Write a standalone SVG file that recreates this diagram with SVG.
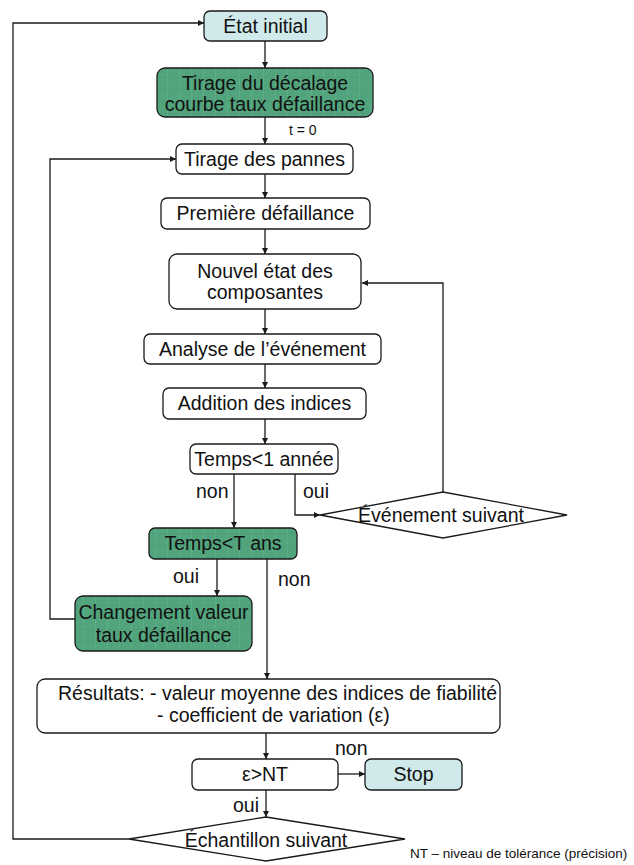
<svg xmlns="http://www.w3.org/2000/svg" width="634" height="865" viewBox="0 0 634 865">
<style>
  .box { fill: #ffffff; stroke: #1a1a1a; stroke-width: 1.3; }
  .green { fill: url(#grid); stroke: #1a1a1a; stroke-width: 1.3; }
  .blue { fill: #d0e9eb; stroke: #1a1a1a; stroke-width: 1.3; }
  .dia { fill: #ffffff; stroke: #1a1a1a; stroke-width: 1.3; }
  .t { font-family: "Liberation Sans", Arial, sans-serif; font-size: 19.5px; fill: #111111; text-anchor: middle; }
  .l { font-family: "Liberation Sans", Arial, sans-serif; font-size: 19.5px; fill: #111111; }
  .conn { fill: none; stroke: #1a1a1a; stroke-width: 1.3; marker-end: url(#arr); }
</style>
<defs>
  <marker id="arr" viewBox="0 0 10 10" refX="10" refY="5" markerWidth="6" markerHeight="6" markerUnits="userSpaceOnUse" orient="auto">
    <path d="M0,0 L10,5 L0,10 z" fill="#1a1a1a"/>
  </marker>
  <pattern id="grid" width="12" height="12" patternUnits="userSpaceOnUse">
    <rect width="12" height="12" fill="#52a47d"/>
    <path d="M11.5,0 V12" stroke="#5cae87" stroke-width="1"/>
    <path d="M0,5.5 H12" stroke="#4c9b76" stroke-width="0.6"/>
  </pattern>
</defs>
<rect width="634" height="865" fill="#ffffff"/>

<g id="connectors">
  <line class="conn" x1="265" y1="41" x2="265" y2="68"/>
  <line class="conn" x1="265" y1="117" x2="265" y2="144"/>
  <line class="conn" x1="265" y1="174" x2="265" y2="198"/>
  <line class="conn" x1="265" y1="229" x2="265" y2="254"/>
  <line class="conn" x1="265" y1="309" x2="265" y2="334"/>
  <line class="conn" x1="265" y1="364" x2="265" y2="388"/>
  <line class="conn" x1="265" y1="419" x2="265" y2="444"/>
  <line class="conn" x1="234" y1="474" x2="234" y2="528"/>
  <polyline class="conn" points="295,474 295,515 320,515"/>
  <polyline class="conn" points="443,492 443,283 362,283"/>
  <line class="conn" x1="217" y1="559" x2="217" y2="596"/>
  <line class="conn" x1="267" y1="559" x2="267" y2="679"/>
  <polyline class="conn" points="75,619 50,619 50,159 176,159"/>
  <line class="conn" x1="266" y1="733" x2="266" y2="759"/>
  <line class="conn" x1="338" y1="774" x2="365" y2="774"/>
  <line class="conn" x1="266" y1="790" x2="266" y2="817"/>
  <polyline class="conn" points="129,839 13,839 13,23 204,23"/>
  <text class="l" x="289" y="135" style="font-size:14px">t = 0</text>
  <text class="l" x="196" y="498">non</text>
  <text class="l" x="303" y="498">oui</text>
  <text class="l" x="173" y="583">oui</text>
  <text class="l" x="278" y="586">non</text>
  <text class="l" x="335" y="755">non</text>
  <text class="l" x="233" y="812">oui</text>
</g>

<g id="etat-initial">
  <rect class="blue" x="204" y="11" width="123" height="30" rx="6"/>
  <text class="t" x="265.5" y="33">État initial</text>
</g>
<g id="tirage-decalage">
  <rect class="green" x="157" y="68" width="216" height="49" rx="8"/>
  <text class="t" x="265" y="90">Tirage du décalage</text>
  <text class="t" x="265" y="111">courbe taux défaillance</text>
</g>
<g id="tirage-pannes">
  <rect class="box" x="176" y="144" width="177" height="30" rx="6"/>
  <text class="t" x="264.5" y="166">Tirage des pannes</text>
</g>
<g id="premiere-defaillance">
  <rect class="box" x="161" y="198" width="209" height="31" rx="6"/>
  <text class="t" x="265.5" y="220">Première défaillance</text>
</g>
<g id="nouvel-etat">
  <rect class="box" x="169" y="254" width="192" height="55" rx="8"/>
  <text class="t" x="265" y="278">Nouvel état des</text>
  <text class="t" x="265" y="299">composantes</text>
</g>
<g id="analyse">
  <rect class="box" x="144" y="334" width="237" height="30" rx="6"/>
  <text class="t" x="262.5" y="356">Analyse de l’événement</text>
</g>
<g id="addition">
  <rect class="box" x="163" y="388" width="203" height="31" rx="6"/>
  <text class="t" x="264.5" y="410">Addition des indices</text>
</g>
<g id="temps-1-annee">
  <rect class="box" x="190" y="444" width="148" height="30" rx="6"/>
  <text class="t" x="264" y="466">Temps&lt;1 année</text>
</g>
<g id="evenement-suivant">
  <polygon class="dia" points="320,515 443,492 567,515 443,538"/>
  <text class="t" x="441" y="522">Événement suivant</text>
</g>
<g id="temps-t-ans">
  <rect class="green" x="149" y="528" width="148" height="31" rx="6"/>
  <text class="t" x="223" y="550">Temps&lt;T ans</text>
</g>
<g id="changement">
  <rect class="green" x="75" y="596" width="177" height="55" rx="8"/>
  <text class="t" x="163.5" y="619">Changement valeur</text>
  <text class="t" x="163.5" y="642">taux défaillance</text>
</g>
<g id="resultats">
  <rect class="box" x="37" y="679" width="463" height="54" rx="8"/>
  <text class="l" x="58" y="700">Résultats: - valeur moyenne des indices de fiabilité</text>
  <text class="l" x="157" y="722">- coefficient de variation (ε)</text>
</g>
<g id="epsilon-nt">
  <rect class="box" x="192" y="759" width="146" height="31" rx="6"/>
  <text class="t" x="265" y="781">ε&gt;NT</text>
</g>
<g id="stop">
  <rect class="blue" x="365" y="759" width="97" height="31" rx="6"/>
  <text class="t" x="413.5" y="781">Stop</text>
</g>
<g id="echantillon-suivant">
  <polygon class="dia" points="129,839 266,817 405,839 266,861"/>
  <text class="t" x="266" y="847">Échantillon suivant</text>
</g>
<g id="note">
  <text class="l" x="410" y="858" style="font-size:13.5px">NT – niveau de tolérance (précision)</text>
</g>
</svg>
